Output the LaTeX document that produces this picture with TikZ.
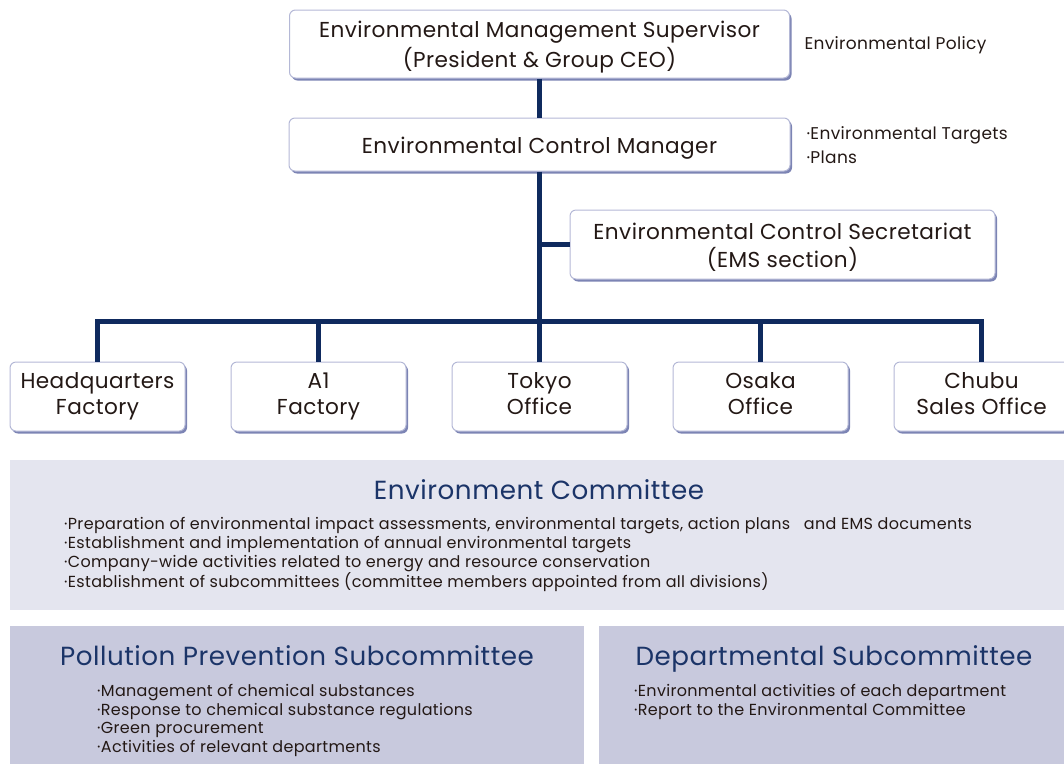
\documentclass[tikz,border=0pt]{standalone}
\usepackage{fontspec}
\setmainfont{Poppins}[LetterSpace=2]
\definecolor{navy}{HTML}{0F2A5E}
\definecolor{ttl}{HTML}{1B3468}
\definecolor{txt}{HTML}{231815}
\definecolor{bord}{HTML}{B4B8D6}
\definecolor{shad}{HTML}{7C84B4}
\definecolor{pan1}{HTML}{E4E5EF}
\definecolor{pan2}{HTML}{C8C9DD}
\newcommand{\myStrutTop}{\rule[-0.18\baselineskip]{0pt}{\baselineskip}}
\newcommand{\myStrutBot}{\rule[-0.32\baselineskip]{0pt}{\baselineskip}}
\begin{document}
\begin{tikzpicture}[x=1pt,y=-1pt,
  orgbox/.style={rectangle, rounded corners=6pt, draw=bord, line width=1pt, fill=white,
    preaction={fill=shad, transform canvas={shift={(2pt,-2.5pt)}}},
    align=center, text=txt, inner sep=0pt},
  topbox/.style={orgbox, font=\fontsize{21.6}{28.5}\selectfont},
  botbox/.style={orgbox, minimum width=175pt, minimum height=69pt, font=\fontsize{21.6}{26}\selectfont},
  conn/.style={draw=navy, line width=5pt},
  side/.style={text=txt, anchor=west, align=left, font=\fontsize{17}{24}\selectfont},
  panel/.style={rectangle, inner sep=0pt, anchor=north west},
  ptitle/.style={text=ttl, font=\fontsize{26.2}{30}\selectfont},
  plist/.style={text=txt, anchor=north west, align=left, inner sep=0pt, font=\fontsize{16}{18.7}\selectfont}
]
\useasboundingbox (0,0) rectangle (1064,764);

% top boxes
\node[topbox, minimum width=500pt, minimum height=68pt] (sup) at (539.5,44) {\myStrutTop Environmental Management Supervisor\\\myStrutTop(President \& Group CEO)};
\node[topbox, minimum width=501pt, minimum height=53pt] (mgr) at (539.5,144.5) {\myStrutTop Environmental Control Manager};
\node[topbox, minimum width=425pt, minimum height=69pt] (sec) at (782.5,244.5) {\myStrutTop Environmental Control Secretariat\\\myStrutTop(EMS section)};

\node[side] (pol) at (801,45.5) {Environmental Policy};
\node[side] (tgt) at (803,145) {·Environmental Targets\\·Plans};

% bottom boxes
\node[botbox] (b1) at (97.5,396.5) {\myStrutBot Headquarters\\\myStrutBot Factory};
\node[botbox] (b2) at (318.5,396.5) {\myStrutBot A1\\\myStrutBot Factory};
\node[botbox] (b3) at (539.5,396.5) {\myStrutBot Tokyo\\\myStrutBot Office};
\node[botbox] (b4) at (760.5,396.5) {\myStrutBot Osaka\\\myStrutBot Office};
\node[botbox] (b5) at (981.5,396.5) {\myStrutBot Chubu\\\myStrutBot Sales Office};

% connectors
\coordinate (bus) at (539,321);
\draw[conn] (sup.south) -- (mgr.north);
\draw[conn] (mgr.south) -- (mgr.south |- bus);
\draw[conn] (sec.west) -- (sec.west -| mgr.south);
\draw[conn, line cap=rect] (b1.north |- bus) -- (b5.north |- bus);
\draw[conn] (b1.north) -- (b1.north |- bus);
\draw[conn] (b2.north) -- (b2.north |- bus);
\draw[conn] (b3.north) -- (b3.north |- bus);
\draw[conn] (b4.north) -- (b4.north |- bus);
\draw[conn] (b5.north) -- (b5.north |- bus);

% panels
\node[panel, fill=pan1, minimum width=1054pt, minimum height=150pt] (envp) at (10,460) {};
\node[ptitle] (envt) at (539,493) {\strut Environment Committee};
\node[plist] (envl) at (64,517.5) {·Preparation of environmental impact assessments, environmental targets, action plans\ \ \ and EMS documents\\·Establishment and implementation of annual environmental targets\\·Company-wide activities related to energy and resource conservation\\·Establishment of subcommittees (committee members appointed from all divisions)};

\node[panel, fill=pan2, minimum width=574pt, minimum height=138pt] (ppp) at (10,626) {};
\node[ptitle] (ppt) at (297,659) {\strut Pollution Prevention Subcommittee};
\node[plist] (ppl) at (97,684) {·Management of chemical substances\\·Response to chemical substance regulations\\·Green procurement\\·Activities of relevant departments};

\node[panel, fill=pan2, minimum width=465pt, minimum height=138pt] (dpp) at (599,626) {};
\node[ptitle] (dpt) at (834,659) {\strut Departmental Subcommittee};
\node[plist] (dpl) at (634,684) {·Environmental activities of each department\\·Report to the Environmental Committee};
\end{tikzpicture}
\end{document}
